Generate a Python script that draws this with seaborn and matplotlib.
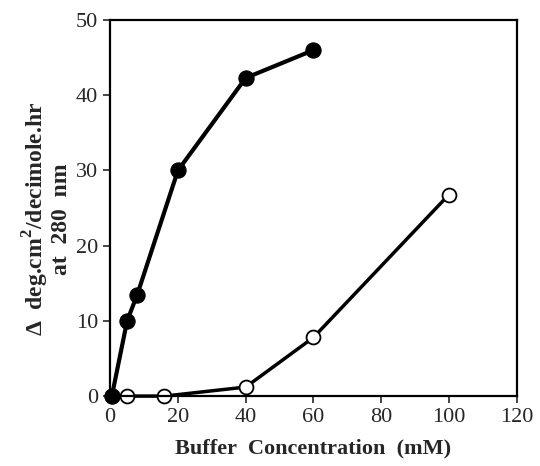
import matplotlib
matplotlib.use('Agg')
import matplotlib.pyplot as plt
import seaborn as sns
import pandas as pd

# filled circles
conc_filled = [0.5, 5, 8, 20, 40, 60]
val_filled = [0, 10, 13.5, 30, 42.3, 46]
# open circles
conc_open = [0.5, 5, 16, 40, 60, 100]
val_open = [0, 0, 0, 1.2, 7.8, 26.8]

xticks = [0, 20, 40, 60, 80, 100, 120]
yticks = [0, 10, 20, 30, 40, 50]

sns.set_style('ticks')
plt.rcParams['font.family'] = ['Liberation Serif', 'DejaVu Serif']
plt.rcParams['mathtext.fontset'] = 'custom'
plt.rcParams['mathtext.rm'] = 'Liberation Serif'
plt.rcParams['mathtext.bf'] = 'Liberation Serif:bold'

fig = plt.figure(figsize=(5.4, 4.66), dpi=100)
ax = fig.add_axes([0.204, 0.15, 0.753, 0.807])

df_o = pd.DataFrame({'x': conc_open, 'y': val_open})
df_f = pd.DataFrame({'x': conc_filled, 'y': val_filled})

sns.lineplot(data=df_o, x='x', y='y', ax=ax, color='black', lw=2.5,
             marker='o', markersize=10, markerfacecolor='white',
             markeredgecolor='black', markeredgewidth=1.3, zorder=2,
             clip_on=False)
sns.lineplot(data=df_f, x='x', y='y', ax=ax, color='black', lw=3,
             marker='o', markersize=11, markerfacecolor='black',
             markeredgecolor='black', zorder=3, clip_on=False)

ax.set_xlim(0, 120)
ax.set_ylim(0, 50)
ax.set_xticks(xticks)
ax.set_yticks(yticks)
ax.tick_params(direction='out', length=5, width=1.2, labelsize=16)
for s in ax.spines.values():
    s.set_linewidth(1.6)
    s.set_color('black')

ax.set_xlabel('Buffer  Concentration  (mM)', fontsize=16, fontweight='bold',
              labelpad=8)
ax.set_ylabel('Δ  deg.cm$^\\mathbf{2}$/decimole.hr\nat  280  nm', fontsize=17,
              fontweight='bold', linespacing=0.95)
ax.yaxis.set_label_coords(-0.095, 0.47)

fig.savefig('out.png', dpi=100)
